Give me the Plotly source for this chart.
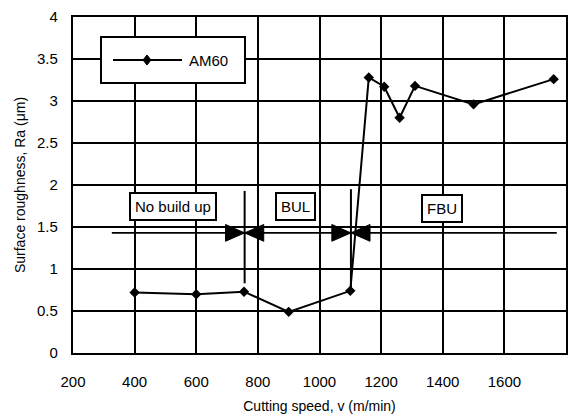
import plotly.graph_objects as go

# Data
speed = [400, 600, 755, 900, 1100, 1160, 1210, 1260, 1310, 1500, 1760]
roughness = [0.72, 0.70, 0.73, 0.49, 0.74, 3.28, 3.17, 2.80, 3.18, 2.96, 3.26]
series_name = "AM60"

zone_labels = ["No build up", "BUL", "FBU"]
zone_label_x = [526, 923, 1397]
zone_label_y = [1.745, 1.745, 1.72]
zone_boundaries = [757, 1102]
band_level = 1.43
band_start, band_end = 326, 1770

x_ticks = [200, 400, 600, 800, 1000, 1200, 1400, 1600, 1800]
y_ticks = [0, 0.5, 1, 1.5, 2, 2.5, 3, 3.5, 4]

FONT = "Liberation Sans, Arial, sans-serif"

fig = go.Figure()
fig.add_trace(go.Scatter(
    x=speed, y=roughness, mode="lines+markers", name=series_name,
    line=dict(color="black", width=2),
    marker=dict(symbol="diamond", size=8, color="black"),
    showlegend=False, hoverinfo="skip",
))

shapes = []
# horizontal band line
shapes.append(dict(type="line", xref="x", yref="y", x0=band_start, x1=band_end,
                   y0=band_level, y1=band_level, line=dict(color="black", width=1.8)))
# boundary markers
vert_spans = [(0.83, 1.93), (0.78, 1.95)]
for b, (ylo, yhi) in zip(zone_boundaries, vert_spans):
    shapes.append(dict(type="line", xref="x", yref="y", x0=b, x1=b, y0=ylo, y1=yhi,
                       line=dict(color="black", width=2)))
    tw, th = 62, 0.1
    shapes.append(dict(type="path", xref="x", yref="y",
                       path=f"M {b-tw} {band_level-th} L {b-tw} {band_level+th} L {b} {band_level} Z",
                       fillcolor="black", line=dict(color="black", width=1)))
    shapes.append(dict(type="path", xref="x", yref="y",
                       path=f"M {b+tw} {band_level-th} L {b+tw} {band_level+th} L {b} {band_level} Z",
                       fillcolor="black", line=dict(color="black", width=1)))

# manual legend box
lx0, lx1 = (101 - 73) / 493, (245 - 73) / 493
ly0, ly1 = (353 - 83) / 336, (353 - 37) / 336
lym = (ly0 + ly1) / 2
shapes.append(dict(type="rect", xref="paper", yref="paper", x0=lx0, x1=lx1, y0=ly0, y1=ly1,
                   fillcolor="white", line=dict(color="black", width=2), layer="above"))
shapes.append(dict(type="line", xref="paper", yref="paper",
                   x0=(113 - 73) / 493, x1=(182 - 73) / 493, y0=lym, y1=lym,
                   line=dict(color="black", width=2), layer="above"))
mx, my = (147 - 73) / 493, lym
dx, dy = 4 / 493, 5 / 336
shapes.append(dict(type="path", xref="paper", yref="paper",
                   path=f"M {mx-dx} {my} L {mx} {my+dy} L {mx+dx} {my} L {mx} {my-dy} Z",
                   fillcolor="black", line=dict(color="black", width=1), layer="above"))

annotations = []
annotations.append(dict(xref="paper", yref="paper", x=(187 - 73) / 493, y=lym,
                        xanchor="left", yanchor="middle", text=series_name, showarrow=False,
                        font=dict(family=FONT, size=15, color="black")))
for t, x, y in zip(zone_labels, zone_label_x, zone_label_y):
    annotations.append(dict(xref="x", yref="y", x=x, y=y, text=t, showarrow=False,
                            bgcolor="white", bordercolor="black", borderwidth=2, borderpad=4,
                            font=dict(family=FONT, size=15, color="black")))

fig.update_layout(
    width=582, height=419,
    margin=dict(l=73, r=16, t=17, b=66),
    paper_bgcolor="white", plot_bgcolor="white",
    font=dict(family=FONT, size=15, color="black"),
    shapes=shapes, annotations=annotations,
    showlegend=False,
)
fig.update_xaxes(
    range=[200, 1800], tickvals=x_ticks, showgrid=True, gridcolor="black", gridwidth=1.5,
    showline=True, linecolor="black", linewidth=2.4, mirror=True, zeroline=False,
    ticks="", ticklabelstandoff=14, automargin=False,
    title=dict(text="Cutting speed, v (m/min)", font=dict(size=14), standoff=12),
)
fig.update_yaxes(
    range=[0, 4], tickvals=y_ticks, showgrid=True, gridcolor="black", gridwidth=1.5,
    showline=True, linecolor="black", linewidth=2.4, mirror=True, zeroline=False,
    ticks="", ticklabelstandoff=10, automargin=False,
    title=dict(text="Surface roughness, Ra (μm)", font=dict(size=14), standoff=8),
)

fig.write_html("out.html", config={"displayModeBar": False},
               post_script="document.body.style.margin='0px';")
